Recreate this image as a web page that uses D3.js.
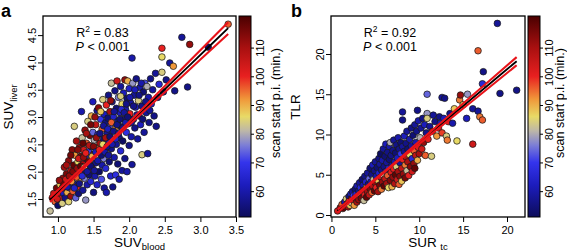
<!DOCTYPE html>
<html><head><meta charset="utf-8">
<script src="https://cdn.jsdelivr.net/npm/d3@7"></script>
<style>body{margin:0;background:#fff}svg{display:block;font-family:"Liberation Sans",Arial,Helvetica,sans-serif}</style>
</head><body><svg id="c" width="567" height="252"></svg>
<script>
// ---- data: panel a  [SUV_blood, SUV_liver, scan start (min)]
const pointsA = [
[0.89,1.28,82],[0.92,1.52,112],[0.94,1.60,105],[0.96,1.45,96],[0.98,1.70,116],[1.00,1.38,52],[1.01,1.56,108],[1.03,1.76,88],
[1.04,1.50,100],[1.05,1.66,118],[1.06,1.42,84],[1.07,1.88,112],[1.08,1.60,62],[1.09,2.08,110],[1.10,1.74,98],[1.10,1.52,56],
[1.12,1.96,115],[1.13,1.62,90],[1.14,1.84,104],[1.15,2.20,113],[1.15,1.45,85],[1.17,1.70,68],[1.18,2.02,108],[1.18,1.55,112],
[1.20,1.88,80],[1.20,2.40,114],[1.21,1.64,96],[1.22,2.12,118],[1.22,1.78,58],[1.23,2.83,84],[1.24,2.30,92],[1.24,1.96,106],
[1.25,1.52,74],[1.26,2.56,110],[1.27,1.72,100],[1.28,2.18,86],[1.28,2.00,62],[1.29,1.60,54],[1.30,2.44,112],
[1.31,1.84,90],[1.32,2.28,116],[1.33,3.10,60],[1.33,1.98,100],[1.34,2.62,82],[1.35,1.66,58],[1.35,2.14,110],[1.36,2.40,104],
[1.37,1.88,76],[1.38,2.76,112],[1.38,2.02,56],[1.39,1.48,78],[1.40,2.24,64],[1.40,2.52,96],[1.41,1.76,60],[1.42,2.92,84],
[1.42,2.10,108],[1.43,2.36,70],[1.44,1.94,54],[1.45,2.66,116],[1.45,2.20,86],[1.46,1.82,66],[1.47,3.02,90],[1.47,2.46,58],
[1.48,2.06,102],[1.49,3.28,62],[1.49,2.72,74],[1.50,1.62,55],[1.50,2.32,112],
[1.51,2.58,80],[1.52,1.92,60],[1.53,2.86,106],[1.53,2.16,56],[1.54,2.44,92],[1.55,3.12,58],[1.55,1.76,64],[1.56,2.68,66],
[1.57,3.17,114],[1.57,2.28,82],[1.58,2.00,52],[1.59,2.52,110],[1.60,2.96,70],[1.60,2.38,56],[1.61,1.86,72],[1.62,2.78,96],
[1.62,2.12,60],[1.63,3.32,84],[1.64,2.60,54],[1.64,2.24,76],[1.65,3.05,62],[1.65,1.70,58],[1.66,2.46,104],[1.67,2.90,56],
[1.67,2.06,66],[1.68,3.22,100],[1.68,1.62,60],[1.69,2.70,58],[1.70,2.34,88],[1.70,2.98,54],
[1.71,3.40,56],[1.72,2.18,54],[1.72,2.56,62],[1.73,3.10,110],[1.74,1.92,64],[1.74,2.84,72],[1.75,3.62,82],[1.75,2.42,56],
[1.76,3.28,58],[1.77,2.66,80],[1.77,1.72,56],[1.78,3.00,64],[1.79,2.26,60],[1.80,3.48,56],[1.80,2.78,92],[1.81,1.94,68],
[1.82,3.16,54],[1.82,2.50,58],[1.83,3.66,104],[1.84,2.92,58],[1.84,2.14,54],[1.85,3.36,76],[1.86,2.62,56],[1.86,1.86,60],
[1.87,3.08,62],[1.88,2.38,66],[1.88,3.56,58],[1.89,2.82,54],[1.90,3.24,86],[1.90,2.02,58],
[1.91,2.56,52],[1.92,3.44,62],[1.93,2.96,56],[1.94,3.68,112],[1.94,2.24,56],[1.95,3.14,60],[1.96,2.72,68],[1.97,2.00,60],
[1.97,3.34,54],[1.98,3.66,90],[1.99,2.88,58],[2.00,3.52,64],[2.00,2.48,56],[2.01,3.06,100],[2.02,3.26,58],[2.03,2.64,60],
[2.04,4.08,60],[2.04,2.13,58],[2.05,3.62,78],[2.06,2.96,54],[2.07,3.40,58],[2.08,2.80,56],[2.09,3.18,62],[2.10,3.70,56],
[2.12,2.60,58],[2.13,3.30,84],[2.14,3.02,56],[2.15,3.54,60],[2.16,2.86,62],[2.18,2.31,84],[2.18,3.20,56],[2.20,3.46,54],
[2.21,2.72,58],[2.22,3.62,72],[2.24,3.08,58],[2.26,2.33,58],[2.27,3.36,60],[2.28,2.90,56],[2.30,3.70,56],[2.31,3.24,64],
[2.33,3.50,58],[2.35,3.02,56],[2.37,3.80,58],[2.38,2.83,56],[2.40,3.36,60],[2.42,3.60,66],[2.46,3.82,84],[2.46,4.10,86],
[2.46,4.26,100],[2.48,3.46,58],[2.52,3.68,56],[2.57,3.99,58],[2.62,3.93,92],[2.64,3.48,56],[2.74,4.46,58],[2.82,3.55,56],
[2.85,4.33,112],[3.11,4.28,52],[3.39,4.70,96],
[1.06,1.70,110],[1.08,1.78,116],[1.11,1.86,104],[1.13,1.72,60],[1.16,1.92,112],[1.19,1.82,92],[1.21,2.00,115],[1.23,1.70,64],
[1.26,1.90,96],[1.27,2.06,112],[1.29,2.24,104],[1.30,1.78,56],[1.32,2.10,118],[1.34,1.92,66],[1.36,2.26,112],[1.37,2.08,84],
[1.39,2.34,100],[1.41,2.00,58],[1.43,2.18,116],[1.44,2.48,108],[1.46,2.10,54],[1.48,2.28,90],[1.50,2.46,114],[1.51,2.02,58],
[1.53,2.36,62],[1.54,2.62,112],[1.56,2.20,60],[1.58,2.40,100],[1.59,2.70,56],[1.61,2.30,54],[1.63,2.50,86],[1.64,2.84,58],
[1.66,2.36,60],[1.67,2.62,110],[1.69,2.46,56],[1.70,2.78,62],[1.71,2.30,58],[1.73,2.64,54],[1.75,2.90,96],[1.76,2.50,60],
[1.78,2.74,56],[1.79,3.10,58],[1.81,2.60,64],[1.83,2.86,56],[1.85,2.70,58],[1.87,2.96,54],[1.89,3.14,66],[1.91,2.80,56],
[1.93,3.08,58],[1.95,2.90,60],[1.96,3.24,56],[1.98,3.00,54],[2.01,3.36,60],[2.03,2.90,58],[2.06,3.20,56],[2.08,3.50,62],
[2.11,3.04,58],[2.14,3.40,56],[2.17,3.62,60],[2.19,2.96,54],[2.23,3.28,56],[2.25,3.56,80],[2.29,3.12,58],[1.35,2.52,118],
[1.28,2.40,114],[1.18,2.30,116],[1.12,2.12,110],[1.02,1.84,112],[0.99,1.50,104],[1.40,2.70,110],[1.46,2.86,116],[1.52,3.00,112],
[1.60,3.10,88],[1.74,3.30,112],[1.88,3.38,84]
];
// ---- data: panel b  [SUR_tc, TLR, scan start (min)]
const pointsB = [
[0.7,0.5,104],[1.0,0.9,112],[1.2,1.3,96],[1.3,0.8,118],[1.5,1.6,60],[1.6,1.1,108],[1.7,2.0,84],[1.8,1.4,116],[1.9,1.0,110],
[2.0,2.3,56],[2.0,1.7,100],[2.1,1.2,88],[2.2,2.6,62],[2.3,2.0,114],[2.3,1.5,82],[2.4,2.9,58],[2.5,1.8,106],[2.5,2.4,70],
[2.6,1.2,92],[2.7,3.2,54],[2.7,2.1,118],[2.8,2.6,64],[2.9,1.6,110],[2.9,3.6,60],[3.0,2.3,96],
[3.1,3.0,56],[3.1,1.9,112],[3.2,4.0,58],[3.3,2.6,86],[3.3,3.4,66],[3.4,2.1,116],[3.5,4.4,54],[3.5,2.9,104],[3.6,3.7,60],
[3.7,1.8,82],[3.7,3.1,112],[3.8,4.8,56],[3.8,2.5,100],[3.9,4.1,64],[4.0,3.4,90],[4.0,2.2,118],[4.1,5.2,58],[4.1,2.9,110],
[4.2,3.8,56],[4.3,4.5,74],[4.3,2.5,106],[4.4,5.8,54],[4.4,3.3,114],[4.5,4.1,60],[4.6,2.8,96],[4.6,5.0,56],[4.7,3.6,108],
[4.7,6.2,62],[4.8,4.4,82],[4.9,3.0,118],[4.9,5.5,56],
[5.0,4.0,112],[5.0,6.6,58],[5.1,3.4,100],[5.1,4.8,60],[5.2,5.9,54],[5.3,2.9,110],[5.3,4.3,88],[5.4,7.0,56],[5.4,5.2,64],
[5.5,3.7,116],[5.5,6.3,58],[5.6,4.7,104],[5.6,7.6,52],[5.7,3.2,94],[5.7,5.6,56],[5.8,6.8,60],[5.8,4.1,112],[5.9,8.2,58],
[5.9,5.0,82],[6.0,3.6,118],[6.0,6.0,56],[6.1,7.3,54],[6.1,4.5,106],[6.2,8.8,62],[6.2,5.4,60],[6.3,3.9,110],[6.3,6.5,58],
[6.4,7.8,56],[6.4,4.9,96],[6.5,3.4,86],[6.5,5.8,64],[6.6,8.5,60],[6.6,6.9,54],[6.7,4.3,114],[6.7,9.0,80],[6.8,5.3,102],
[6.8,7.4,56],[6.9,3.5,90],[6.9,6.2,58],
[7.0,8.0,56],[7.0,4.7,112],[7.1,5.7,100],[7.1,9.3,58],[7.2,6.6,60],[7.2,3.9,108],[7.3,7.7,54],[7.3,5.0,118],[7.4,8.7,56],
[7.4,6.0,84],[7.5,4.4,104],[7.5,7.1,62],[7.6,9.6,60],[7.6,5.4,110],[7.7,8.2,56],[7.7,3.8,96],[7.8,6.5,58],[7.8,4.8,114],
[7.9,7.6,70],[7.9,9.0,54],[8.0,5.8,106],[8.0,4.2,88],[8.1,8.5,58],[8.1,6.9,100],[8.1,11.8,56],[8.1,12.8,58],[8.2,5.1,112],
[8.3,7.9,56],[8.3,9.8,62],[8.4,6.2,94],[8.4,4.6,116],[8.5,8.9,56],[8.5,7.2,108],[8.6,5.5,82],[8.6,10.4,58],[8.7,6.6,110],
[8.7,8.2,54],[8.8,4.9,100],[8.9,9.4,60],[8.9,7.5,86],
[9.0,6.0,114],[9.1,8.6,58],[9.1,10.8,56],[9.2,5.4,104],[9.2,7.0,66],[9.3,9.9,54],[9.4,6.4,112],[9.4,8.0,96],[9.5,11.2,58],
[9.5,5.8,118],[9.6,9.0,60],[9.6,7.4,106],[9.7,10.4,56],[9.8,6.8,90],[9.8,13.0,56],[9.9,8.4,102],[9.9,11.7,60],[10.0,7.6,110],
[10.1,9.6,80],[10.2,10.8,58],[10.3,8.2,104],[10.4,12.0,56],[10.5,9.0,112],[10.6,11.2,62],[10.7,7.4,96],[10.8,10.2,56],
[10.9,15.0,74],[10.9,12.6,78],[10.9,12.0,84],[11.0,9.4,100],
[11.2,11.0,58],[11.4,7.3,84],[11.5,10.4,110],[11.6,12.4,58],[11.8,11.6,56],[12.0,9.8,92],[12.2,10.8,104],[12.3,12.2,56],
[12.4,11.4,60],[12.6,14.6,58],[12.9,14.5,56],[12.6,10.2,98],[12.8,12.0,62],[13.1,9.8,84],[13.2,9.3,94],[13.3,11.6,100],
[13.5,12.6,56],[13.8,11.4,60],[14.0,13.2,88],[14.3,9.2,86],[14.6,14.3,94],[14.7,14.9,112],[15.0,13.7,86],[15.5,15.0,78],
[15.4,12.0,62],[16.1,13.2,58],[16.1,8.8,104],[16.7,20.4,96],[16.7,12.9,58],[16.9,12.2,94],[17.2,11.8,96],[17.2,16.3,66],
[17.3,17.8,56],[18.9,23.8,58],[19.2,15.1,56],[21.1,15.5,56]
];
// regression line and 95% CI
const fitXA = [0.89,1.2,1.6,2.0,2.4,2.8,3.1,3.39];
const fitYA = [1.488,1.877,2.380,2.882,3.384,3.887,4.264,4.628];
const ciUpA = [1.533,1.905,2.395,2.910,3.434,3.962,4.356,4.736];
const ciLoA = [1.443,1.849,2.365,2.854,3.334,3.812,4.172,4.520];
const fitXB = [0.7,3,6,9,12,15,18,21.1];
const fitYB = [0.498,2.596,5.332,8.068,10.804,13.54,16.276,19.103];
const ciUpB = [0.686,2.717,5.392,8.189,11.014,13.845,16.678,19.606];
const ciLoB = [0.310,2.475,5.272,7.947,10.594,13.235,15.874,18.600];
// ticks
const xTicksA = [1.0,1.5,2.0,2.5,3.0,3.5];
const yTicksA = [1.5,2.0,2.5,3.0,3.5,4.0,4.5];
const xTicksB = [0,5,10,15,20];
const yTicksB = [0,5,10,15,20];
const cbTicks = [60,70,80,90,100,110];
const r2Labels = ["0.83","0.92"];
const pLabel = "< 0.001";
// colour ramp of scan start time
const rampT = [51,62,70,76,81,86,92,100,110,121];
const rampC = ["#0c0c5a","#1c1cbc","#3434ec","#7c7ed6","#bdb7a8","#e8da66","#f0983a","#e82020","#a81010","#4a0000"];

const svg = d3.select("#c");
const color = d3.scaleLinear().domain(rampT).range(rampC).interpolate(d3.interpolateRgb).clamp(true);
const tDomain = [51,121];

const grad = svg.append("defs").append("linearGradient").attr("id","g").attr("x1",0).attr("y1",1).attr("x2",0).attr("y2",0);
rampT.forEach((t,i)=>grad.append("stop").attr("offset",(t-tDomain[0])/(tDomain[1]-tDomain[0])).attr("stop-color",rampC[i]));

function panel(o){
  const g = svg.append("g");
  const x = d3.scaleLinear().domain(o.xd).range([o.L,o.R]);
  const y = d3.scaleLinear().domain(o.yd).range([o.B,o.T]);
  g.append("g").selectAll("circle").data(o.pts).join("circle")
    .attr("cx",d=>x(d[0])).attr("cy",d=>y(d[1])).attr("r",3.3)
    .attr("fill",d=>color(d[2])).attr("stroke","#1a1a1a").attr("stroke-width",0.75);
  const ln = (ys)=>d3.line().curve(d3.curveMonotoneX)(o.fx.map((v,i)=>[x(v),y(ys[i])]));
  g.append("path").attr("d",ln(o.fy)).attr("fill","none").attr("stroke","#000").attr("stroke-width",1.8);
  g.append("path").attr("d",ln(o.up)).attr("fill","none").attr("stroke","#e8141a").attr("stroke-width",2.1);
  g.append("path").attr("d",ln(o.lo)).attr("fill","none").attr("stroke","#e8141a").attr("stroke-width",2.1);
  g.append("rect").attr("x",o.L).attr("y",o.T).attr("width",o.R-o.L).attr("height",o.B-o.T)
    .attr("fill","none").attr("stroke","#000").attr("stroke-width",1.3);
  const ax = g.append("g").attr("transform",`translate(0,${o.B})`)
    .call(d3.axisBottom(x).tickValues(o.xt).tickSize(5).tickSizeOuter(0).tickFormat(o.xf));
  ax.select(".domain").remove();
  ax.selectAll("text").attr("y",9).attr("dy","0.71em").style("font-size","11px").style("font-family",null);
  const ay = g.append("g").attr("transform",`translate(${o.L},0)`)
    .call(d3.axisLeft(y).tickValues(o.yt).tickSize(5).tickSizeOuter(0).tickFormat(o.yf));
  ay.select(".domain").remove();
  ay.selectAll("text").attr("transform","rotate(-90)").attr("x",0).attr("y",o.ylabOff).attr("dy",null)
    .attr("text-anchor","middle").style("font-size","11px").style("font-family",null);
  g.selectAll(".tick line").attr("stroke","#000").attr("stroke-width",1);
  const c = d3.scaleLinear().domain(tDomain).range([o.B,o.T]);
  g.append("rect").attr("x",o.cbx).attr("y",o.T).attr("width",o.cbw).attr("height",o.B-o.T)
    .attr("fill","url(#g)").attr("stroke","#000").attr("stroke-width",1);
  const ac = g.append("g").attr("transform",`translate(${o.cbx+o.cbw},0)`)
    .call(d3.axisRight(c).tickValues(cbTicks).tickSize(3).tickSizeOuter(0));
  ac.select(".domain").remove();
  ac.selectAll("text").attr("transform","rotate(-90)").attr("x",0).attr("y",o.cbLabOff).attr("dy",null)
    .attr("text-anchor","middle").style("font-size","11px").style("font-family",null);
  g.append("text").attr("transform",`translate(${o.cbTitleX},${o.cbTitleY}) rotate(-90)`)
    .attr("text-anchor","middle").style("font-size","12.5px").text("scan start p.i. (min.)");
  const st = g.append("text").attr("x",o.sx).attr("y",37).attr("text-anchor","middle").style("font-size","12.5px");
  st.append("tspan").text("R");
  st.append("tspan").attr("dy",-5).style("font-size","8.5px").text("2");
  st.append("tspan").attr("dy",5).text(" = "+o.r2);
  const pt = g.append("text").attr("x",o.sx).attr("y",51).attr("text-anchor","middle").style("font-size","12.5px");
  pt.append("tspan").style("font-style","italic").text("P");
  pt.append("tspan").text(" "+pLabel);
  const xt = g.append("text").attr("x",(o.L+o.R)/2).attr("y",246.5).attr("text-anchor","middle").style("font-size","13.5px");
  xt.append("tspan").text(o.xMain);
  xt.append("tspan").attr("dy",3).attr("dx",o.subDx).style("font-size","9.5px").text(o.xSub);
  const yt = g.append("text").attr("transform",`translate(${o.yTitleX},107) rotate(-90)`).attr("text-anchor","middle").style("font-size","13.5px");
  yt.append("tspan").text(o.yMain);
  if(o.ySub) yt.append("tspan").attr("dy",3.5).style("font-size","9.5px").text(o.ySub);
  g.append("text").attr("x",o.letX).attr("y",16.5).style("font-size","18px").style("font-weight","bold").text(o.letter);
}

panel({pts:pointsA, xd:[0.79,3.50], yd:[1.17,4.85], L:43, R:236, T:16, B:217,
  fx:fitXA, fy:fitYA, up:ciUpA, lo:ciLoA, xt:xTicksA, yt:yTicksA,
  xf:d3.format(".1f"), yf:d3.format(".1f"), ylabOff:-7.5,
  cbx:239, cbw:12, cbLabOff:13, cbTitleX:280, cbTitleY:103,
  sx:102.5, r2:r2Labels[0], xMain:"SUV", xSub:"blood", subDx:0, yMain:"SUV", ySub:"liver", yTitleX:13, letter:"a", letX:1});
panel({pts:pointsB, xd:[-0.05,22.05], yd:[-0.25,24.72], L:331, R:525, T:16, B:217,
  fx:fitXB, fy:fitYB, up:ciUpB, lo:ciLoB, xt:xTicksB, yt:yTicksB,
  xf:d3.format("d"), yf:d3.format("d"), ylabOff:-7,
  cbx:528, cbw:12, cbLabOff:12.5, cbTitleX:564, cbTitleY:103,
  sx:390, r2:r2Labels[1], xMain:"SUR", xSub:" tc", subDx:1, yMain:"TLR", ySub:null, yTitleX:300, letter:"b", letX:291});
</script></body></html>
